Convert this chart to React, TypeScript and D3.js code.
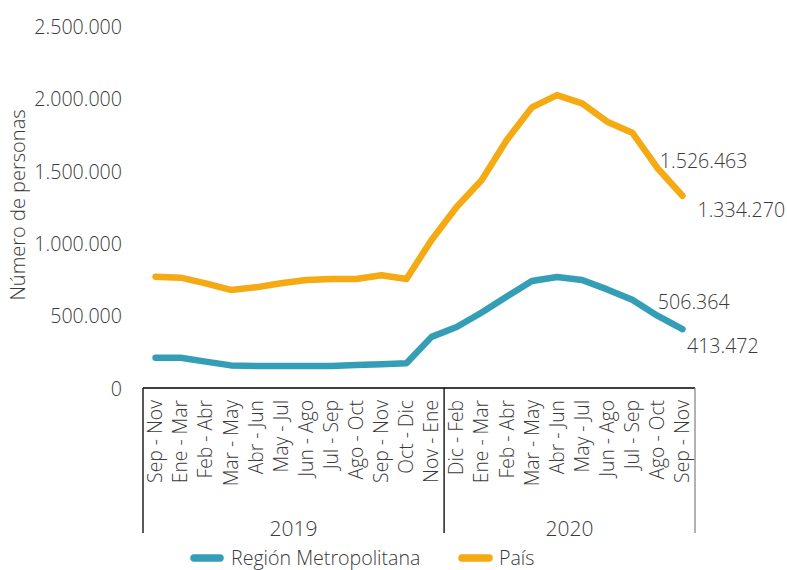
import React from "react";
import * as d3 from "d3";

const categories = [
  "Sep - Nov", "Ene - Mar", "Feb - Abr", "Mar - May", "Abr - Jun", "May - Jul",
  "Jun - Ago", "Jul - Sep", "Ago - Oct", "Sep - Nov", "Oct - Dic", "Nov - Ene",
  "Dic - Feb", "Ene - Mar", "Feb - Abr", "Mar - May", "Abr - Jun", "May - Jul",
  "Jun - Ago", "Jul - Sep", "Ago - Oct", "Sep - Nov",
];
const yearLabels = ["2019", "2020"];
const yearCounts = [12, 10];

const paisValues = [
  776000, 769000, 730000, 684000, 702000, 730000, 753000, 760000, 760000, 785000, 760000, 1029000,
  1257000, 1443000, 1720000, 1945000, 2030000, 1973000, 1846000, 1770000, 1526463, 1334270,
];
const rmValues = [
  216000, 216000, 189000, 163000, 159000, 159000, 159000, 159000, 165000, 171000, 178000, 360000,
  428000, 528000, 639000, 746000, 773000, 753000, 688000, 616000, 506364, 413472,
];
const yTicks = [0, 500000, 1000000, 1500000, 2000000, 2500000];
const seriesNames = ["Región Metropolitana", "País"];

const W = 787;
const H = 570;
const TEXT = "#3a3a3a";
const FONT = "'Open Sans', sans-serif";
const C_RM = "#359EB7";
const C_PAIS = "#F5A913";

const fmt = (v: number) => d3.format(",")(v).replace(/,/g, ".");

export default function App() {
  const x = d3
    .scaleBand<number>()
    .domain(d3.range(categories.length))
    .range([143, 695])
    .paddingInner(0)
    .paddingOuter(0);
  const y = d3.scaleLinear().domain([0, 2500000]).range([389, 27]);
  const cx = (i: number) => (x(i) as number) + x.bandwidth() / 2;

  const line = d3
    .line<number>()
    .x((_, i) => cx(i))
    .y((d) => y(d));

  const bounds: number[] = [0];
  yearCounts.forEach((c, k) => bounds.push(bounds[k] + c));
  const bx = (k: number) =>
    k >= categories.length ? (x(categories.length - 1) as number) + x.bandwidth() : (x(k) as number);

  const axisY = y(0) - 1;
  const groupBottom = 533;

  const n = categories.length;
  const lab = [
    { v: paisValues[n - 2], i: n - 2, dx: 2.5, dy: -7 },
    { v: paisValues[n - 1], i: n - 1, dx: 15, dy: 14 },
    { v: rmValues[n - 2], i: n - 2, dx: 0.5, dy: -14 },
    { v: rmValues[n - 1], i: n - 1, dx: 4.5, dy: 17 },
  ];

  return (
    <svg
      width={W}
      height={H}
      style={{ position: "absolute", left: 0, top: 0, background: "#fff" }}
      fontFamily={FONT}
      fontWeight={300}
    >
      <text
        transform={`translate(25,205) rotate(-90)`}
        textAnchor="middle"
        fontSize={20}
        fill={TEXT}
      >
        Número de personas
      </text>

      {yTicks.map((t) => (
        <text
          key={t}
          x={122}
          y={y(t)}
          dy="0.35em"
          textAnchor="end"
          fontSize={19.6}
          fill={TEXT}
        >
          {fmt(t)}
        </text>
      ))}

      <line x1={143} x2={695} y1={axisY} y2={axisY} stroke="#000" strokeWidth={1.3} />
      {bounds.map((b, k) => (
        <line
          key={k}
          x1={bx(b)}
          x2={bx(b)}
          y1={axisY}
          y2={groupBottom}
          stroke={k === bounds.length - 1 ? "#888" : "#000"}
          strokeWidth={1.3}
        />
      ))}

      {categories.map((c, i) => (
        <text
          key={i}
          transform={`translate(${cx(i)},400) rotate(-90)`}
          dy="0.35em"
          textAnchor="end"
          fontSize={19.3}
          fill={TEXT}
        >
          {c}
        </text>
      ))}

      {yearLabels.map((yl, k) => (
        <text
          key={yl}
          x={(bx(bounds[k]) + bx(bounds[k + 1])) / 2}
          y={536}
          textAnchor="middle"
          fontSize={21}
          fill={TEXT}
        >
          {yl}
        </text>
      ))}

      <path
        d={line(paisValues) || ""}
        fill="none"
        stroke={C_PAIS}
        strokeWidth={6.5}
        strokeLinejoin="round"
        strokeLinecap="round"
      />
      <path
        d={line(rmValues) || ""}
        fill="none"
        stroke={C_RM}
        strokeWidth={6.5}
        strokeLinejoin="round"
        strokeLinecap="round"
      />

      {lab.map((l, k) => (
        <text
          key={k}
          x={cx(l.i) + l.dx}
          y={y(l.v) + l.dy}
          dy="0.35em"
          fontSize={19.6}
          fill={TEXT}
        >
          {fmt(l.v)}
        </text>
      ))}

      <line x1={194} x2={220} y1={558} y2={558} stroke={C_RM} strokeWidth={7.5} strokeLinecap="round" />
      <text x={231} y={558} dy="0.35em" fontSize={19.6} fill={TEXT}>
        {seriesNames[0]}
      </text>
      <line x1={462} x2={489} y1={558} y2={558} stroke={C_PAIS} strokeWidth={7.5} strokeLinecap="round" />
      <text x={499} y={558} dy="0.35em" fontSize={19.6} fill={TEXT}>
        {seriesNames[1]}
      </text>
    </svg>
  );
}
